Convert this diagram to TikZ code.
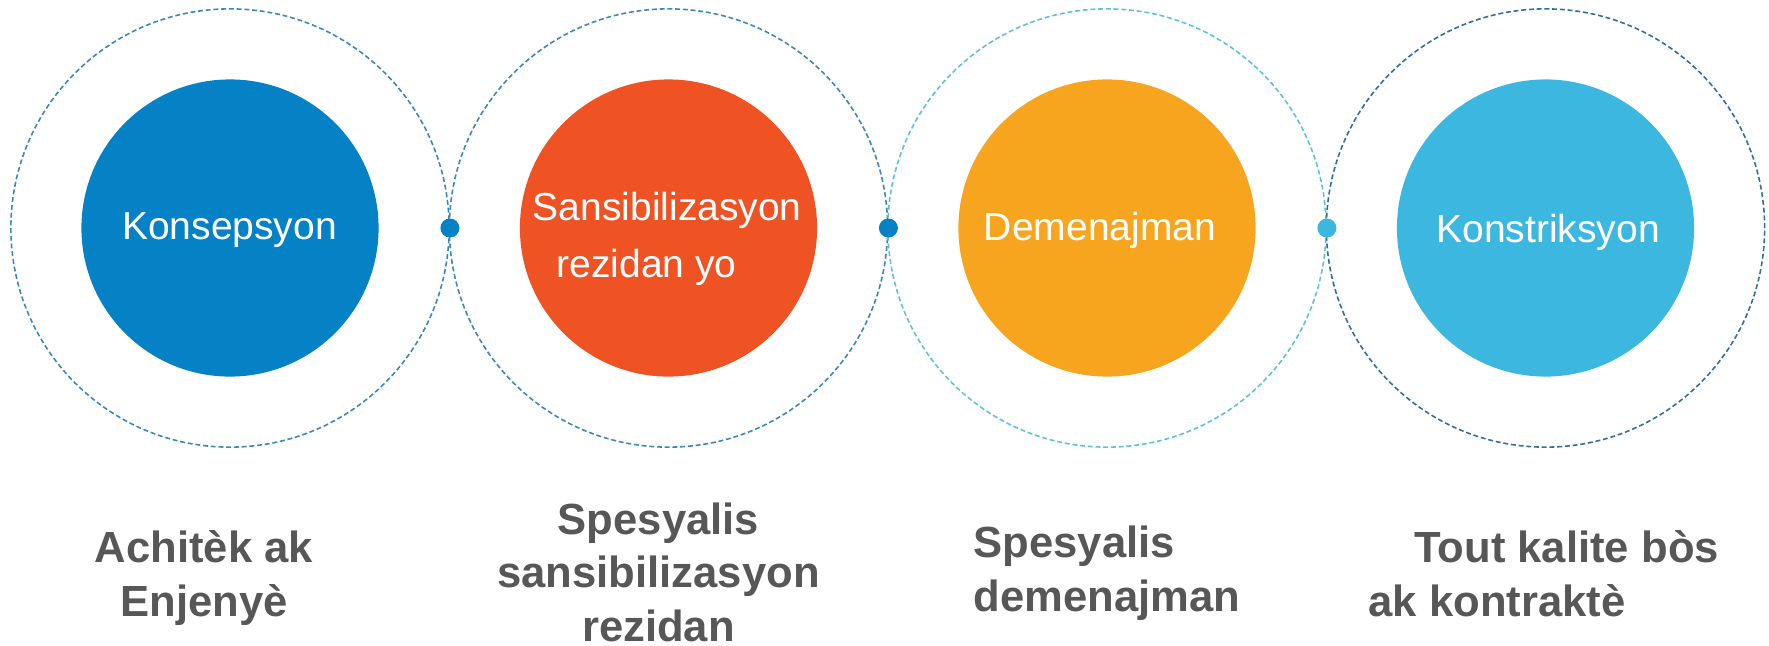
\documentclass[tikz,border=0pt]{standalone}
\usepackage{fontspec}
\setmainfont{Liberation Sans}
\definecolor{konblue}{HTML}{0581C6}
\definecolor{sanred}{HTML}{EF5323}
\definecolor{demorange}{HTML}{F7A51F}
\definecolor{kstsky}{HTML}{3CB8E0}
\definecolor{ringmid}{HTML}{3A87B9}
\definecolor{ringlight}{HTML}{5BC1DC}
\definecolor{ringdark}{HTML}{2F6FA0}
\definecolor{capgray}{HTML}{575757}
\begin{document}
\begin{tikzpicture}[line join=round,x=0.01cm,y=-0.01cm]
		\tikzset{ring/.style={circle,draw,minimum size=4.38cm,inner sep=0pt,line width=0.45pt,dash pattern=on 1.4pt off 0.8pt},
			disc/.style={circle,minimum size=2.97cm,inner sep=0pt},
			joint/.style={circle,minimum size=0.19cm,inner sep=0pt},
			intext/.style={text=white,font=\fontsize{11.1}{16.2}\selectfont,inner sep=0pt},
			caption/.style={text=capgray,font=\fontsize{12.4}{15.1}\selectfont\bfseries,inner sep=0pt}}
		\useasboundingbox (0,0) rectangle (1769,645);
		\node[ring,draw=ringmid] (r1) at (230,228) {};
		\node[ring,draw=ringmid] (r2) at (668.5,228) {};
		\node[ring,draw=ringlight] (r3) at (1107,228) {};
		\node[ring,draw=ringdark] (r4) at (1545.5,228) {};
		\node[disc,fill=konblue] (c1) at (r1) {};
		\node[disc,fill=sanred] (c2) at (r2) {};
		\node[disc,fill=demorange] (c3) at (r3) {};
		\node[disc,fill=kstsky] (c4) at (r4) {};
		\node[joint,fill=konblue] (j1) at (r1.east) {};
		\node[joint,fill=konblue] (j2) at (r2.east) {};
		\node[joint,fill=kstsky] (j3) at (r3.east) {};
		\node[intext,anchor=base] (t1) at (229.5,239) {Konsepsyon};
		\node[intext,anchor=base west,align=left] (t2) at (532,277) {Sansibilizasyon\\\hspace*{6.8pt}rezidan yo};
		\node[intext,anchor=base] (t3) at (1100,240) {Demenajman};
		\node[intext,anchor=base] (t4) at (1548,242) {Konstriksyon};
		\node[caption,anchor=base,align=center] (l1) at (204,616) {Achitèk ak\\Enjenyè};
		\node[caption,anchor=base,align=center] (l2) at (658.5,641) {Spesyalis\\sansibilizasyon\\rezidan};
		\node[caption,anchor=base west,align=left] (l3) at (973,611) {Spesyalis\\demenajman};
		\node[caption,anchor=base west,align=left] (l4) at (1368,616) {\hspace*{13pt}Tout kalite bòs\\ak kontraktè};
	\end{tikzpicture}
\end{document}
